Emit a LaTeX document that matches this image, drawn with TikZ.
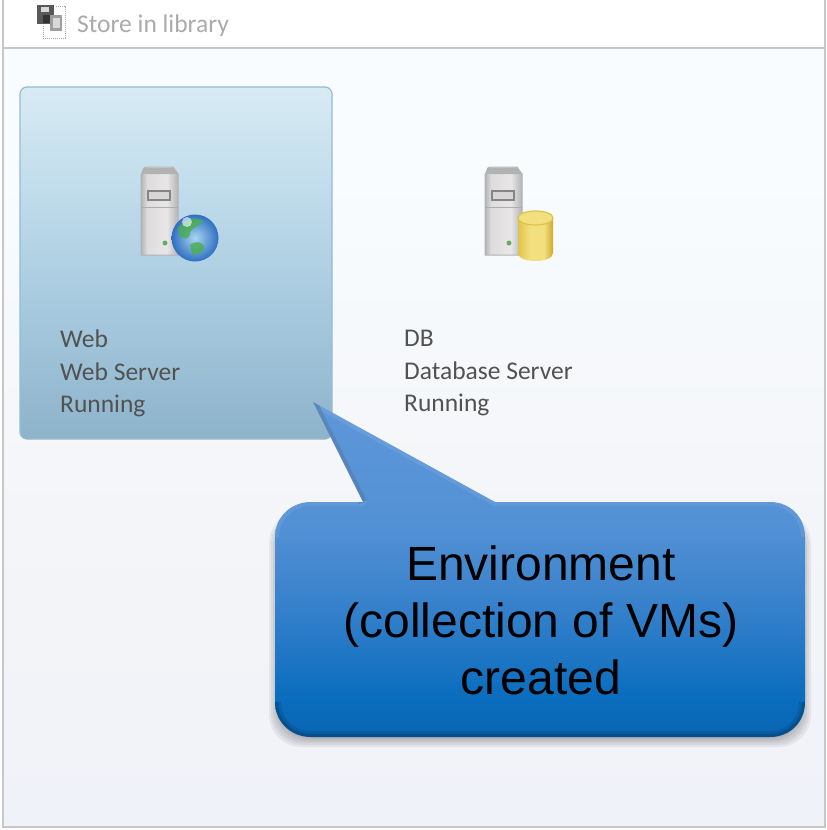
\documentclass[tikz,border=0pt]{standalone}
\usepackage{fontspec}
\setmainfont{Liberation Sans}
\newfontfamily\uifont{Carlito}
\usetikzlibrary{shadings,calc}
\definecolor{pgbot}{HTML}{F0F2F9}
\definecolor{pgmid}{HTML}{F4F5F8}
\definecolor{pgtop}{HTML}{F8FCFE}
\pgfdeclareverticalshading{pagebg}{100bp}{color(0bp)=(pgbot);color(25bp)=(pgbot);color(45bp)=(pgmid);color(67bp)=(pgtop);color(75bp)=(pgtop);color(100bp)=(pgtop)}
\definecolor{cardA}{HTML}{8DB3CA}
\definecolor{cardB}{HTML}{A9CBE0}
\definecolor{cardC}{HTML}{C3DEEC}
\definecolor{cardD}{HTML}{D8EBF4}
\pgfdeclareverticalshading{cardshade}{100bp}{color(0bp)=(cardA);color(25bp)=(cardA);color(45bp)=(cardB);color(62bp)=(cardC);color(75bp)=(cardD);color(100bp)=(cardD)}
\definecolor{coB}{HTML}{0A66B4}
\definecolor{coC}{HTML}{0A6DBE}
\definecolor{coD}{HTML}{3580CB}
\definecolor{coE}{HTML}{5290D4}
\definecolor{coF}{HTML}{5E97DA}
\pgfdeclareverticalshading{coshade}{100bp}{color(0bp)=(coB);color(25bp)=(coB);color(31bp)=(coC);color(44bp)=(coD);color(56bp)=(coE);color(75bp)=(coF);color(100bp)=(coF)}
\definecolor{srvA}{HTML}{B4B4B6}
\definecolor{srvB}{HTML}{DEDCDC}
\definecolor{srvC}{HTML}{E8E6E6}
\pgfdeclarehorizontalshading{srvshade}{100bp}{color(0bp)=(srvA);color(25bp)=(srvA);color(33bp)=(srvB);color(60bp)=(srvC);color(75bp)=(srvA);color(100bp)=(srvA)}
\definecolor{dbA}{HTML}{E0C24A}
\definecolor{dbB}{HTML}{F2E07E}
\definecolor{dbC}{HTML}{CFA92C}
\pgfdeclarehorizontalshading{dbshade}{100bp}{color(0bp)=(dbA);color(25bp)=(dbA);color(42bp)=(dbB);color(62bp)=(dbB);color(75bp)=(dbC);color(100bp)=(dbC)}
\definecolor{globeIn}{HTML}{A9D6F2}
\definecolor{globeOut}{HTML}{2E6FC0}
\tikzset{
  uitext/.style={font=\uifont\fontsize{25.5}{32.5}\selectfont,text=black!68,align=left,anchor=north west,inner sep=0pt},
  calltext/.style={font=\fontsize{48}{57}\selectfont,text=black,align=center,inner sep=0pt},
  edgeline/.style={draw=black!22,line width=2pt},
}
\newcommand{\srvicon}[1]{%
  \begin{scope}[shift={(#1)}]
    \shade[shading=srvshade] (0,8) -- (3,1) -- (5,0) -- (32,0) -- (37,7) -- (37,88) -- (0,88) -- cycle;
    \draw[black!30,line width=1pt] (0,8) -- (3,1) -- (5,0) -- (32,0) -- (37,7) -- (37,88) -- (0,88) -- cycle;
    \fill[black!30] (3,1) -- (32,1) -- (36,7) -- (1,7) -- cycle;
    \draw[black!48,line width=1.3pt,fill=black!16] (7,24) rectangle (29,33);
    \draw[black!32,line width=1pt] (0,40) -- (37,40);
    \fill[green!45!black!60] (24,76) circle (2.5);
  \end{scope}}
\begin{document}
\begin{tikzpicture}[x=1pt,y=-1pt]
\useasboundingbox (0,0) rectangle (827,830);
% page
\fill[white] (0,0) rectangle (827,830);
\shade[shading=pagebg] (3,48) rectangle (825,827);
\fill[white] (3,0) rectangle (825,47);
\draw[edgeline] (3,48) -- (825,48);
\draw[edgeline] (3,0) -- (3,827) -- (825,827) -- (825,0);
% toolbar icon
\fill[black!65] (37,5) rectangle (54,24);
\fill[white!85!black] (41,7) rectangle (49,12);
\fill[black!80] (43,15) rectangle (50,23);
\fill[black!38] (50,15) rectangle (62,31);
\fill[black!15] (53,18) rectangle (60,28);
\draw[black!35,densely dotted,line width=1pt] (56,6) -- (65,6) -- (65,38) -- (43,38) -- (43,26);
\node[font=\uifont\fontsize{25.5}{30}\selectfont,text=black!33,anchor=west,inner sep=0pt] (store) at (77,25.5) {Store in library};
% selected card
\shade[shading=cardshade,rounded corners=7pt] (20,87) rectangle (332,439);
\draw[cardA!85!cardD,line width=1.2pt,rounded corners=7pt] (20,87) rectangle (332,439);
% Web icon
\srvicon{141,167}
\begin{scope}
  \shade[inner color=globeIn,outer color=globeOut] (195,238) circle (23.5);
  \fill[green!55!black!70,opacity=.8] (178,229) .. controls (184,218) and (196,216) .. (203,221) .. controls (198,228) and (194,226) .. (190,232) .. controls (190,240) and (184,240) .. (180,236) -- cycle;
  \fill[green!55!black!70,opacity=.8] (190,245) .. controls (196,240) and (205,242) .. (204,249) .. controls (200,254) and (196,256) .. (192,254) -- cycle;
  \fill[white,opacity=.6] (187,222) circle (5);
\end{scope}
% DB icon
\srvicon{485,167}
\shade[shading=dbshade] (518,218) -- (518,253) .. controls (518,258) and (526,261) .. (535.5,261) .. controls (545,261) and (553,258) .. (553,253) -- (553,218) -- cycle;
\fill[dbB] (535.5,218) ellipse (17.5 and 7);
\draw[dbA,line width=1.2pt] (535.5,218) ellipse (17.5 and 7);
% texts
\node[uitext] (web) at (60,330) {Web\\Web Server\\Running};
\node[uitext] (db) at (404,330) {DB\\Database Server\\Running};
% callout
\coordinate (tip) at (313,402);
\def\copath{(tip) -- (495,502) -- (770,502) .. controls (790,502) and (805,517) .. (805,537) -- (805,702) .. controls (805,722) and (790,737) .. (770,737) -- (311,737) .. controls (291,737) and (275,722) .. (275,702) -- (275,537) .. controls (275,517) and (291,502) .. (311,502) -- (363,502) -- cycle}
\foreach \e in {9,7,5,3,1}{
  \fill[black,opacity=.055,rounded corners=32pt] ({278-\e},{520-\e}) rectangle ({802+\e},{738+\e});
}
\shade[shading=coshade] \copath;
\begin{scope}
  \clip \copath;
  \draw[white,opacity=.08,line width=8pt,line join=round] (275,537) .. controls (275,517) and (291,502) .. (311,502) -- (363,502) -- (tip) -- (495,502) -- (770,502) .. controls (790,502) and (805,517) .. (805,537);
  \draw[black,opacity=.10,line width=12pt] (275,702) .. controls (275,722) and (291,737) .. (311,737) -- (770,737) .. controls (790,737) and (805,722) .. (805,702);
  \draw[black,opacity=.14,line width=6pt] (275,702) .. controls (275,722) and (291,737) .. (311,737) -- (770,737) .. controls (790,737) and (805,722) .. (805,702);
  \draw[black,opacity=.14,line width=8pt] (363,502) -- (tip);
\end{scope}
\node[calltext] (env) at (541,620.5) {Environment\\(collection of VMs)\\created};
\end{tikzpicture}
\end{document}
